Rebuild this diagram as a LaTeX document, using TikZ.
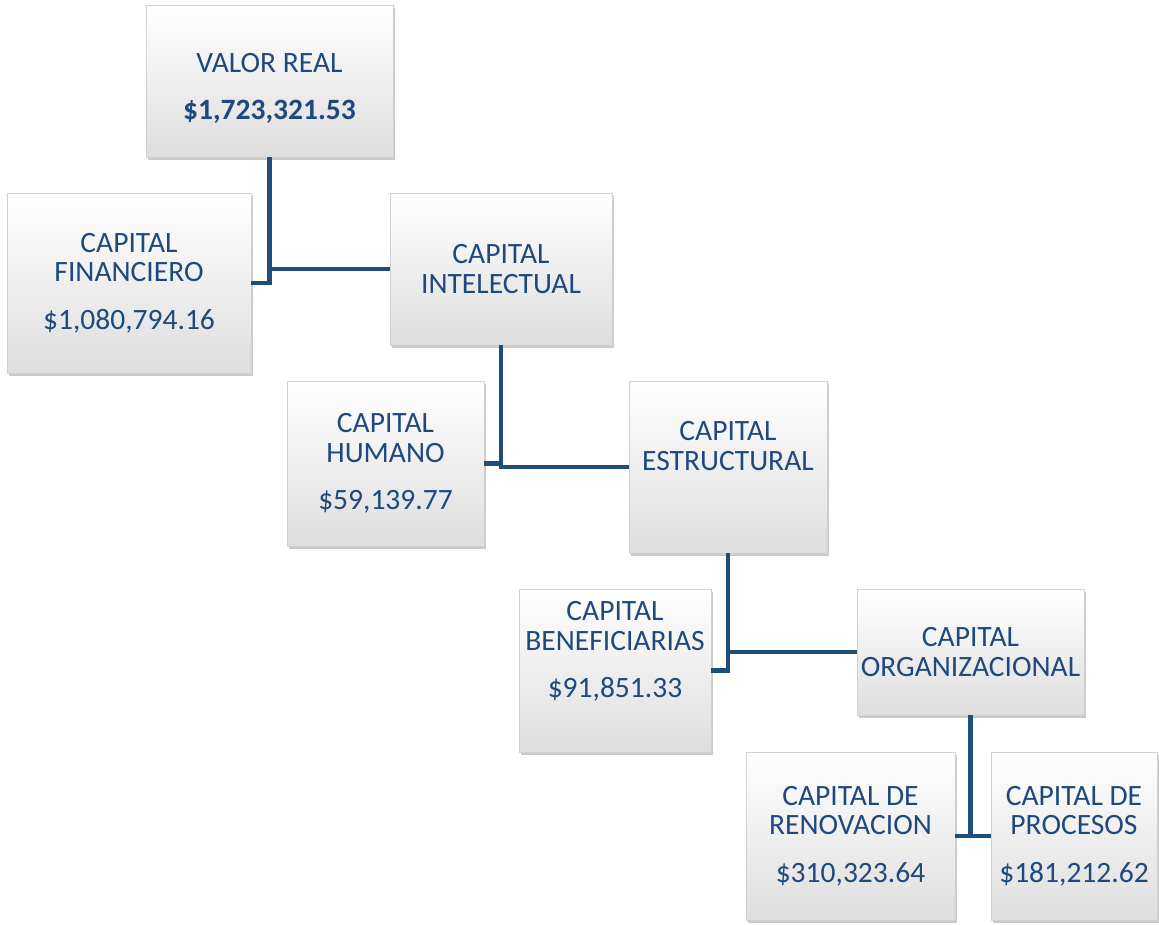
\documentclass[tikz,border=0pt]{standalone}
\usepackage{fontspec}
\setmainfont{Carlito}
\usetikzlibrary{shadows}

\definecolor{txtblue}{RGB}{31,73,125}
\definecolor{lineblue}{RGB}{31,78,121}

\tikzset{
    box/.style={draw=black!18, line width=0.4pt, top color=white, bottom color=black!13,
        drop shadow={shadow xshift=1.2pt, shadow yshift=-1.6pt, opacity=0.35, fill=black!60},
        text=txtblue, align=center, inner sep=0pt,
        font=\fontsize{16.8}{16.8}\selectfont},
    link/.style={draw=lineblue, line width=2.3pt}
}

\begin{document}
\begin{tikzpicture}[x=0.02cm, y=-0.02cm]

        \useasboundingbox (0,0) rectangle (1159,924);

        \node[box, minimum width=4.94cm, minimum height=3.04cm] (valor) at (269.5,81)
            {\rule{0pt}{19pt}VALOR REAL\\[10pt]\textbf{\$1,723,321.53}};
        \node[box, minimum width=4.88cm, minimum height=3.6cm] (fin) at (129,283)
            {CAPITAL\\FINANCIERO\\[10pt]\$1,080,794.16};
        \node[box, minimum width=4.44cm, minimum height=3.04cm] (intel) at (501,269)
            {CAPITAL\\INTELECTUAL};
        \node[box, minimum width=3.94cm, minimum height=3.3cm] (hum) at (385.5,463.5)
            {CAPITAL\\HUMANO\\[10pt]\$59,139.77};
        \node[box, minimum width=3.96cm, minimum height=3.44cm, text depth=0.85cm] (est) at (728,467)
            {CAPITAL\\ESTRUCTURAL};
        \node[box, minimum width=3.84cm, minimum height=3.26cm, text depth=0.85cm] (ben) at (615,670.5)
            {CAPITAL\\BENEFICIARIAS\\[10pt]\$91,851.33};
        \node[box, minimum width=4.54cm, minimum height=2.52cm] (org) at (970.5,652)
            {CAPITAL\\ORGANIZACIONAL};
        \node[box, minimum width=4.18cm, minimum height=3.36cm] (ren) at (850.5,836)
            {CAPITAL DE\\RENOVACION\\[10pt]\$310,323.64};
        \node[box, minimum width=3.32cm, minimum height=3.36cm] (pro) at (1074,836)
            {CAPITAL DE\\PROCESOS\\[10pt]\$181,212.62};

        % Draw the branches
        \draw[link] (valor.south) -- (valor.south |- fin.east) -- (fin.east);
        \draw[link] (valor.south |- intel.west) -- (intel.west);

        \draw[link] (intel.south) -- (intel.south |- est.west) -- (est.west);
        \draw[link] (intel.south |- hum.east) -- (hum.east);

        \draw[link] (est.south) -- (est.south |- ben.east) -- (ben.east);
        \draw[link] (est.south |- org.west) -- (org.west);

        \draw[link] (org.south) -- (org.south |- ren.east) -- (ren.east);
        \draw[link] (org.south |- pro.west) -- (pro.west);

\end{tikzpicture}
\end{document}
